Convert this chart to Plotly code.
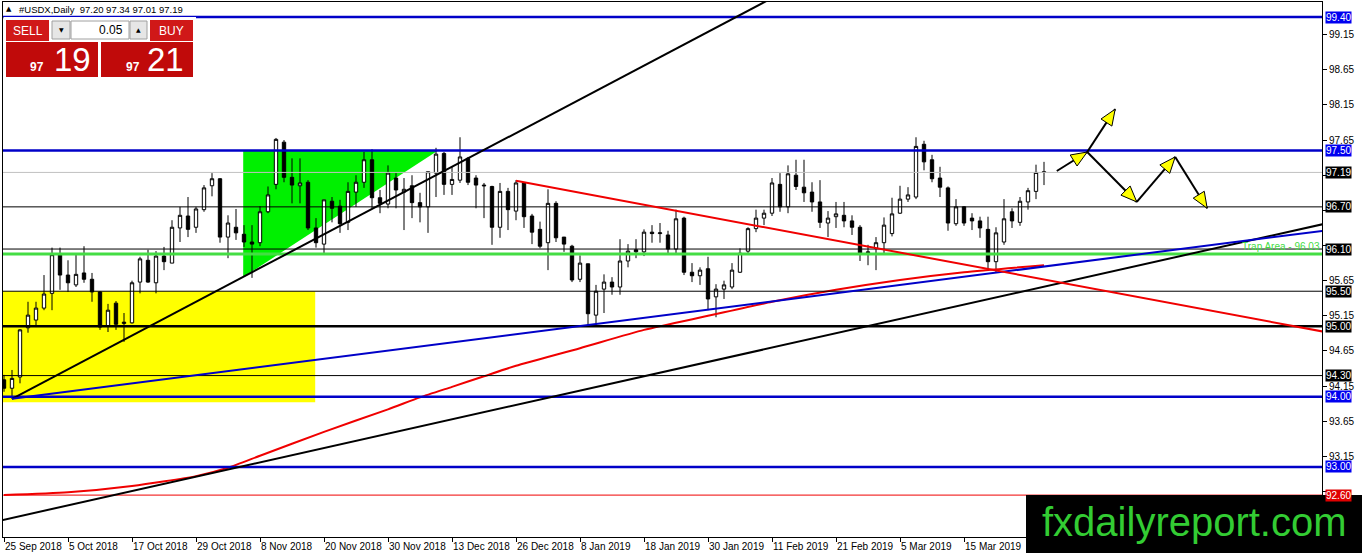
import math
import plotly.graph_objects as go

# ---------------- data ----------------
opens = [94.24, 94.12, 94.28, 94.98, 95.09, 95.26, 95.47, 96.02, 95.73, 95.59,
         95.76, 95.67, 95.49, 95.00, 95.33, 95.04, 95.05, 95.63, 95.94, 95.62,
         96.00, 95.90, 96.40, 96.57, 96.41, 96.66, 97.00, 97.10, 96.27, 96.41,
         96.31, 96.20, 96.19, 96.63, 97.02, 97.62, 97.12, 97.00, 97.05, 96.40,
         96.17, 96.78, 96.71, 96.48, 96.91, 97.05, 97.37, 96.83, 96.74, 97.11,
         96.91, 97.00, 96.76, 96.70, 97.18, 97.46, 97.02, 97.08, 97.39, 97.11,
         97.01, 96.99, 96.41, 96.92, 96.64, 97.04, 96.57, 96.38, 96.19, 96.75,
         96.27, 96.14, 95.67, 95.89, 95.16, 95.53, 95.63, 95.56, 95.93, 96.09,
         96.06, 96.34, 96.32, 96.30, 96.10, 96.54, 95.77, 95.72, 95.82, 95.42,
         95.53, 95.56, 95.77, 96.07, 96.39, 96.54, 96.61, 97.02, 96.70, 97.15,
         96.98, 96.91, 96.77, 96.47, 96.56, 96.58, 96.50, 96.41, 96.06, 96.11,
         96.19, 96.32, 96.61, 96.81, 96.84, 97.59, 97.37, 97.11, 96.97, 96.46,
         96.70, 96.54, 96.50, 96.38, 95.92, 96.20, 96.63, 96.48, 96.77, 96.92,
         97.20]
highs = [94.31, 94.38, 94.96, 95.35, 95.35, 95.73, 96.12, 96.12, 95.94, 96.02,
         96.14, 95.76, 95.50, 95.32, 95.36, 95.19, 95.65, 95.99, 96.09, 96.07,
         96.13, 96.51, 96.70, 96.84, 96.70, 97.01, 97.18, 97.11, 96.58, 96.67,
         96.44, 96.44, 96.71, 96.99, 97.68, 97.65, 97.39, 97.39, 97.08, 96.54,
         96.80, 96.84, 96.80, 97.05, 97.15, 97.48, 97.52, 96.94, 97.29, 97.18,
         97.11, 97.15, 96.90, 97.20, 97.54, 97.48, 97.27, 97.69, 97.41, 97.15,
         97.04, 97.00, 97.04, 96.97, 97.08, 97.04, 96.60, 96.49, 96.95, 96.78,
         96.27, 96.16, 96.01, 95.89, 95.59, 95.74, 95.70, 96.24, 96.17, 96.24,
         96.38, 96.44, 96.47, 96.36, 96.66, 96.56, 95.90, 95.84, 95.99, 95.60,
         95.65, 95.90, 96.11, 96.41, 96.66, 96.66, 97.11, 97.18, 97.29, 97.37,
         97.37, 97.05, 97.08, 96.64, 96.77, 96.77, 96.58, 96.44, 96.16, 96.27,
         96.55, 96.83, 97.00, 96.98, 97.69, 97.64, 97.44, 97.27, 96.99, 96.81,
         96.71, 96.61, 96.56, 96.56, 96.41, 96.81, 96.68, 96.84, 96.97, 97.30,
         97.34]
lows = [94.07, 93.97, 94.19, 94.91, 94.99, 95.23, 95.23, 95.52, 95.49, 95.56,
        95.62, 95.35, 94.95, 94.92, 94.95, 94.78, 95.04, 95.47, 95.62, 95.47,
        95.80, 95.90, 96.20, 96.27, 96.33, 96.63, 96.85, 96.19, 95.97, 96.23,
        96.13, 95.69, 96.14, 96.61, 96.95, 97.05, 96.75, 96.75, 96.37, 96.12,
        96.04, 96.48, 96.33, 96.37, 96.70, 96.97, 96.68, 96.61, 96.68, 96.68,
        96.37, 96.54, 96.48, 96.33, 96.84, 96.87, 96.87, 97.04, 97.01, 96.68,
        96.54, 96.16, 96.26, 96.37, 96.51, 96.40, 96.17, 96.11, 95.80, 96.20,
        96.06, 95.63, 95.63, 95.02, 95.02, 95.19, 95.45, 95.45, 95.84, 95.97,
        96.00, 96.19, 96.19, 96.04, 96.04, 95.73, 95.63, 95.59, 95.23, 95.13,
        95.39, 95.53, 95.76, 96.04, 96.34, 96.44, 96.57, 96.63, 96.61, 96.94,
        96.77, 96.63, 96.40, 96.27, 96.40, 96.41, 96.30, 95.93, 95.87, 95.80,
        96.04, 96.28, 96.60, 96.77, 96.81, 97.22, 97.05, 96.84, 96.36, 96.43,
        96.43, 96.37, 96.26, 95.80, 95.76, 96.16, 96.40, 96.43, 96.66, 96.81,
        97.01]
closes = [94.12, 94.26, 94.95, 95.16, 95.26, 95.46, 96.02, 95.73, 95.62, 95.74,
          95.67, 95.49, 94.99, 95.23, 95.03, 95.06, 95.62, 95.96, 95.63, 96.00,
          95.92, 96.41, 96.58, 96.38, 96.67, 96.97, 97.10, 96.27, 96.47, 96.33,
          96.20, 96.17, 96.63, 96.87, 97.66, 97.12, 97.01, 97.04, 96.40, 96.19,
          96.80, 96.68, 96.46, 96.92, 97.05, 97.37, 96.83, 96.75, 97.18, 96.94,
          96.95, 96.76, 96.70, 97.20, 97.45, 97.02, 97.09, 97.41, 97.05, 97.01,
          97.00, 96.41, 96.92, 96.66, 97.04, 96.56, 96.34, 96.14, 96.75, 96.26,
          96.17, 95.66, 95.90, 95.18, 95.50, 95.63, 95.56, 95.93, 96.07, 96.06,
          96.34, 96.32, 96.33, 96.10, 96.53, 95.77, 95.72, 95.80, 95.39, 95.53,
          95.59, 95.80, 96.04, 96.39, 96.54, 96.61, 97.04, 96.70, 97.17, 96.99,
          96.90, 96.77, 96.48, 96.54, 96.60, 96.50, 96.41, 96.04, 96.05, 96.19,
          96.44, 96.60, 96.81, 96.87, 97.56, 97.34, 97.10, 96.98, 96.47, 96.70,
          96.47, 96.50, 96.40, 95.92, 96.33, 96.53, 96.50, 96.78, 96.93, 97.19,
          97.19]

tick_labels = ["25 Sep 2018", "5 Oct 2018", "17 Oct 2018", "29 Oct 2018",
               "8 Nov 2018", "20 Nov 2018", "30 Nov 2018", "13 Dec 2018",
               "26 Dec 2018", "8 Jan 2019", "18 Jan 2019", "30 Jan 2019",
               "11 Feb 2019", "21 Feb 2019", "5 Mar 2019", "15 Mar 2019"]
bars_per_label = 8

# moving average (red curve), read at a few bars
ma_bars = [0, 8, 16, 24, 28, 32, 40, 48, 52, 56, 60, 64, 72, 80, 88, 96, 104, 112, 120, 130]
ma_values = [92.60, 92.64, 92.73, 92.87, 92.99, 93.16, 93.50, 93.82, 93.99, 94.14,
             94.29, 94.44, 94.69, 94.95, 95.15, 95.35, 95.52, 95.66, 95.77, 95.87]

level_prices = [99.40, 97.50, 96.70, 96.10, 95.50, 95.00, 94.30, 94.00, 93.00, 92.60]
trap_price = 96.03
bid_price = 97.19
ask_price = 97.21
lot_text = "0.05"
symbol_text = "#USDX,Daily"

# trend lines: two anchor points each (bar index, price)
steep_bars, steep_prices = [1, 41], [93.97, 96.37]
shallow_bars, shallow_prices = [0, 100], [92.25, 94.80]
blue_bars, blue_prices = [1, 73], [93.97, 95.02]
red_bars, red_prices = [64, 120], [97.07, 95.88]

rect_bars, rect_prices = [-1, 38.9], [93.92, 95.50]
tri_bars, tri_prices = [29.9, 29.9, 54.25], [97.50, 95.70, 97.50]

arrow_bars = [131.6, 135.4, 138.9, 141.6, 146.4, 150.4]
arrow_prices = [97.21, 97.48, 98.09, 96.77, 97.41, 96.68]
arrow_links = [(0, 1), (1, 2), (1, 3), (3, 4), (4, 5)]

# ---------------- figure geometry ----------------
W, H = 1362, 553
ML, MR, MT, MB = 3, 40, 2, 16
PW, PH = W - ML - MR, H - MT - MB
XR = [-0.125, 164.75]
YR = [92.004, 99.614]
FONT = "Liberation Sans, Arial, sans-serif"
BLUE = "#0000C8"
LBLUE = "#0000F0"
RED = "#F00000"
GREEN = "#33CC33"

kx = PW / (XR[1] - XR[0])
ky = PH / (YR[1] - YR[0])


def px(x):
    return (x - ML) / PW


def py(y):
    return 1 - (y - MT) / PH


x_idx = list(range(len(opens)))

fig = go.Figure()
fig.add_trace(go.Candlestick(
    x=x_idx, open=opens, high=highs, low=lows, close=closes,
    increasing=dict(line=dict(color="black", width=1), fillcolor="white"),
    decreasing=dict(line=dict(color="black", width=1), fillcolor="black"),
    whiskerwidth=0, showlegend=False, hoverinfo="skip"))

fig.add_trace(go.Scatter(x=ma_bars, y=ma_values, mode="lines",
                         line=dict(color=RED, width=2, shape="spline", smoothing=0.6),
                         showlegend=False, hoverinfo="skip"))

shapes = []
annotations = []

# background objects
shapes.append(dict(type="rect", xref="x", yref="y", x0=rect_bars[0], x1=rect_bars[1],
                   y0=rect_prices[0], y1=rect_prices[1], fillcolor="#FFFF00",
                   line=dict(width=0), layer="below"))
tri_path = "M {} {} L {} {} L {} {} Z".format(tri_bars[0], tri_prices[0], tri_bars[1], tri_prices[1],
                                              tri_bars[2], tri_prices[2])
shapes.append(dict(type="path", xref="x", yref="y", path=tri_path, fillcolor="#00F000",
                   line=dict(width=0), layer="below"))

# horizontal levels
level_style = {
    99.40: (BLUE, 2.5, LBLUE), 97.50: (BLUE, 2.5, LBLUE), 96.70: ("black", 1, "black"),
    96.10: ("black", 1, "black"), 95.50: ("black", 1, "black"), 95.00: ("black", 2.5, "black"),
    94.30: ("black", 1, "black"), 94.00: (BLUE, 2.5, LBLUE), 93.00: (BLUE, 2.5, LBLUE),
    92.60: (RED, 1, "#E00000"),
}
shapes.append(dict(type="line", xref="paper", yref="y", x0=0, x1=1, y0=bid_price, y1=bid_price,
                   line=dict(color="#C0C0C0", width=1), layer="above"))
shapes.append(dict(type="line", xref="paper", yref="y", x0=0, x1=1, y0=trap_price, y1=trap_price,
                   line=dict(color="#44DD44", width=3), layer="above"))
for p in level_prices:
    col, wd, _ = level_style[p]
    shapes.append(dict(type="line", xref="paper", yref="y", x0=0, x1=1, y0=p, y1=p,
                       line=dict(color=col, width=wd), layer="above"))


def ray(bars, prices, start, end):
    s = (prices[1] - prices[0]) / (bars[1] - bars[0])
    return (start, prices[0] + s * (start - bars[0]), end, prices[0] + s * (end - bars[0]))


for bars, prices, col, start in [(steep_bars, steep_prices, "black", steep_bars[0]),
                                 (shallow_bars, shallow_prices, "black", -5),
                                 (blue_bars, blue_prices, BLUE, blue_bars[0]),
                                 (red_bars, red_prices, RED, red_bars[0])]:
    x0, y0, x1, y1 = ray(bars, prices, start, 200)
    shapes.append(dict(type="line", xref="x", yref="y", x0=x0, y0=y0, x1=x1, y1=y1,
                       line=dict(color=col, width=2), layer="above"))

# forecast arrows
for a, b in arrow_links:
    xa, ya, xb, yb = arrow_bars[a], arrow_prices[a], arrow_bars[b], arrow_prices[b]
    shapes.append(dict(type="line", xref="x", yref="y", x0=xa, y0=ya, x1=xb, y1=yb,
                       line=dict(color="black", width=2), layer="above"))
    dx, dy = (xb - xa) * kx, (yb - ya) * ky
    L = math.hypot(dx, dy)
    ux, uy = dx / L, dy / L
    nx, ny = -uy, ux
    hl, hw = 16, 6.5
    bx, by = xb - hl * ux / kx, yb - hl * uy / ky
    c1 = (bx + hw * nx / kx, by + hw * ny / ky)
    c2 = (bx - hw * nx / kx, by - hw * ny / ky)
    path = "M {} {} L {} {} L {} {} Z".format(xb, yb, c1[0], c1[1], c2[0], c2[1])
    shapes.append(dict(type="path", xref="x", yref="y", path=path, fillcolor="#FFFF00",
                       line=dict(color="black", width=1), layer="above"))

# right-axis price labels
annotations.append(dict(xref="paper", yref="y", x=1 + 3 / PW, y=bid_price, xanchor="left",
                        yanchor="middle", text=f"{bid_price:.2f}", showarrow=False,
                        bgcolor="black", borderpad=0, font=dict(family=FONT, size=10, color="white")))
for p in level_prices:
    _, _, bg = level_style[p]
    annotations.append(dict(xref="paper", yref="y", x=1 + 3 / PW, y=p, xanchor="left",
                            yanchor="middle", text=f"{p:.2f}", showarrow=False,
                            bgcolor=bg, borderpad=0, font=dict(family=FONT, size=10, color="white")))
annotations.append(dict(xref="paper", yref="y", x=1, y=trap_price, xanchor="right", yanchor="bottom",
                        text=f"Trap Area - {trap_price:.2f}", showarrow=False,
                        font=dict(family=FONT, size=10, color="#44DD44")))

# header text
annotations.append(dict(xref="paper", yref="paper", x=px(4), y=py(9), xanchor="left", yanchor="middle",
                        text="▲", showarrow=False, font=dict(family="DejaVu Sans", size=7, color="black")))
annotations.append(dict(xref="paper", yref="paper", x=px(17), y=py(9), xanchor="left", yanchor="middle",
                        text=f"{symbol_text}  {opens[-1]:.2f} {highs[-1]:.2f} {lows[-1]:.2f} {closes[-1]:.2f}",
                        showarrow=False, font=dict(family=FONT, size=9.5, color="black")))

# one-click trading panel


def prect(x0, y0, x1, y1, fill, line_col=None, lw=0):
    shapes.append(dict(type="rect", xref="paper", yref="paper", x0=px(x0), x1=px(x1),
                       y0=py(y1), y1=py(y0), fillcolor=fill,
                       line=dict(color=line_col or fill, width=lw), layer="above"))


def ptext(x, y, text, size, color, anchor="center", family=FONT):
    annotations.append(dict(xref="paper", yref="paper", x=px(x), y=py(y), xanchor=anchor,
                            yanchor="middle", text=text, showarrow=False,
                            font=dict(family=family, size=size, color=color)))


prect(3.5, 17, 196, 80, "white")
prect(6, 20, 49, 41, "#D01818")
prect(150, 20, 193, 41, "#D01818")
prect(6, 42, 98, 77, "#C00A0A")
prect(101, 42, 193, 77, "#C00A0A")
prect(52, 21, 70, 39, "#E6E6E6", "#A0A0A0", 1)
prect(71, 21, 129, 39, "white", "#A0A0A0", 1)
prect(130, 21, 147, 39, "#E6E6E6", "#A0A0A0", 1)
ptext(27.5, 31, "SELL", 12, "white")
ptext(171.5, 31, "BUY", 12, "white")
ptext(61, 30, "▼", 6, "black", family="DejaVu Sans")
ptext(138.5, 30, "▲", 6, "black", family="DejaVu Sans")
ptext(125, 30.5, lot_text, 12, "black", anchor="right")
bid_s, ask_s = f"{bid_price:.2f}", f"{ask_price:.2f}"
ptext(46, 67, "<b>" + bid_s[:2] + "</b>", 12, "white", anchor="right")
ptext(52, 60, bid_s[3:], 33, "white", anchor="left")
ptext(142, 67, "<b>" + ask_s[:2] + "</b>", 12, "white", anchor="right")
ptext(145, 60, ask_s[3:], 33, "white", anchor="left")

# watermark
shapes.append(dict(type="rect", xref="paper", yref="paper", x0=px(1026), x1=px(1362),
                   y0=py(553), y1=py(495), fillcolor="black", line=dict(width=0), layer="above"))
annotations.append(dict(xref="paper", yref="paper", x=px(1194), y=py(522), xanchor="center",
                        yanchor="middle", text="fxdailyreport.com", showarrow=False,
                        font=dict(family=FONT, size=40, color=GREEN)))

# y ticks every 0.50; labels hidden where a price label box covers them (as in the terminal)
y_ticks = [round(92.65 + 0.5 * k, 2) for k in range(14)]
covered = [bid_price] + level_prices


def tick_text(v):
    if any(abs(v - c) < 0.09 for c in covered) and not any(abs(v - c) > 0.14 and abs(v - c) < 0.16 for c in [97.50]):
        return ""
    return f"{v:.2f}"


y_ticktext = [tick_text(v) for v in y_ticks]

fig.update_layout(
    width=W, height=H, margin=dict(l=ML, r=MR, t=MT, b=MB, autoexpand=False),
    paper_bgcolor="white", plot_bgcolor="white", boxgap=0.4,
    shapes=shapes, annotations=annotations, showlegend=False,
    xaxis=dict(range=XR, showgrid=False, zeroline=False, showline=True, linecolor="black",
               linewidth=1, mirror=True, ticks="outside", ticklen=4, tickcolor="black",
               tickvals=[i * bars_per_label for i in range(len(tick_labels))], ticktext=tick_labels,
               ticklabelposition="outside right", tickangle=0, automargin=False,
               tickfont=dict(family=FONT, size=10, color="black"),
               rangeslider=dict(visible=False)),
    yaxis=dict(range=YR, side="right", showgrid=False, zeroline=False, showline=True,
               linecolor="black", linewidth=1, mirror=True, ticks="outside", ticklen=4,
               tickcolor="black", tickvals=y_ticks, ticktext=y_ticktext,
               automargin=False, tickfont=dict(family=FONT, size=10, color="black")),
)

fig.write_html("out.html", config={"displayModeBar": False},
               post_script="document.body.style.margin='0';document.body.style.overflow='hidden';")
